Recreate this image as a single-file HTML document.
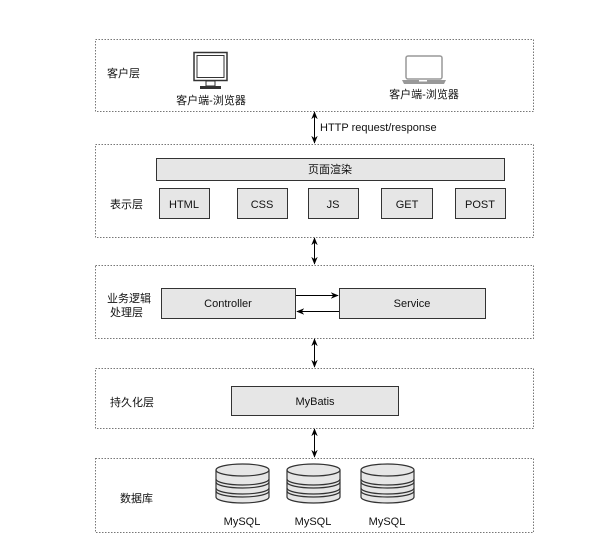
<!DOCTYPE html>
<html><head><meta charset="utf-8"><style>
body{margin:0;background:#fff;}
svg text{font-family:"Liberation Sans","Noto Sans CJK SC",sans-serif;font-size:11px;fill:#111;}
</style></head><body>
<svg width="612" height="548" xmlns="http://www.w3.org/2000/svg">
<defs>
<marker id="a" viewBox="0 0 10 10" refX="9" refY="5" markerWidth="8" markerHeight="8" orient="auto-start-reverse"><path d="M0,1 L10,5 L0,9 L3,5z" fill="#000"/></marker>
</defs>
<g fill="none" stroke="#777" stroke-dasharray="1.5,1.5">
<rect x="95.5" y="39.5" width="438" height="72"/>
<rect x="95.5" y="144.5" width="438" height="93"/>
<rect x="95.5" y="265.5" width="438" height="73"/>
<rect x="95.5" y="368.5" width="438" height="60"/>
<rect x="95.5" y="458.5" width="438" height="74"/>
</g>
<g stroke="#000" stroke-width="1" marker-start="url(#a)" marker-end="url(#a)">
<line x1="314.5" y1="112" x2="314.5" y2="143"/>
<line x1="314.5" y1="238" x2="314.5" y2="264"/>
<line x1="314.5" y1="339" x2="314.5" y2="367"/>
<line x1="314.5" y1="429" x2="314.5" y2="457"/>
</g>
<text x="107" y="77">客户层</text>
<text x="320" y="131">HTTP request/response</text>
<text x="110" y="208">表示层</text>
<text x="107" y="302">业务逻辑</text>
<text x="110" y="316">处理层</text>
<text x="110" y="406">持久化层</text>
<text x="120" y="502">数据库</text>
<!-- monitor -->
<rect x="194" y="52.5" width="33" height="28" fill="#fff" stroke="#333" stroke-width="1.5"/>
<rect x="197" y="55.5" width="27" height="22" fill="#fff" stroke="#333"/>
<rect x="206" y="81" width="9" height="5" fill="#fff" stroke="#333"/>
<rect x="200" y="86" width="21" height="3" fill="#333"/>
<text x="211" y="104" text-anchor="middle">客户端-浏览器</text>
<!-- laptop -->
<rect x="406" y="56" width="36" height="23" rx="2" fill="#fff" stroke="#999" stroke-width="1.5"/>
<path d="M402,80 H446 L444,84 H404 Z" fill="#999"/>
<rect x="419" y="80" width="8" height="1.5" fill="#fff"/>
<text x="424" y="98" text-anchor="middle">客户端-浏览器</text>
<g fill="#e6e6e6" stroke="#333" stroke-width="1">
<rect x="156.5" y="158.5" width="348" height="22"/>
<rect x="159.5" y="188.5" width="50" height="30"/>
<rect x="237.5" y="188.5" width="50" height="30"/>
<rect x="308.5" y="188.5" width="50" height="30"/>
<rect x="381.5" y="188.5" width="51" height="30"/>
<rect x="455.5" y="188.5" width="50" height="30"/>
<rect x="161.5" y="288.5" width="134" height="30"/>
<rect x="339.5" y="288.5" width="146" height="30"/>
<rect x="231.5" y="386.5" width="167" height="29"/>
</g>
<g text-anchor="middle">
<text x="330" y="173">页面渲染</text>
<text x="184" y="208">HTML</text>
<text x="262" y="208">CSS</text>
<text x="333" y="208">JS</text>
<text x="407" y="208">GET</text>
<text x="480" y="208">POST</text>
<text x="228" y="307">Controller</text>
<text x="412" y="307">Service</text>
<text x="315" y="405">MyBatis</text>
</g>
<g stroke="#000" marker-end="url(#a)">
<line x1="296" y1="295.5" x2="338" y2="295.5"/>
<line x1="339" y1="311.5" x2="297" y2="311.5"/>
</g>
<!-- DBs -->
<g id="db" fill="#e6e6e6" stroke="#333" stroke-width="1.2">
<path d="M216,470 V497 A26.5,6 0 0 0 269,497 V470"/>
<ellipse cx="242.5" cy="470" rx="26.5" ry="6"/>
<path d="M216,479 A26.5,6 0 0 0 269,479" fill="none"/>
<path d="M216,482 A26.5,6 0 0 0 269,482" fill="none"/>
<path d="M216,488 A26.5,6 0 0 0 269,488" fill="none"/>
<path d="M216,491 A26.5,6 0 0 0 269,491" fill="none"/>
</g>
<use href="#db" x="71"/>
<use href="#db" x="145"/>
<g text-anchor="middle">
<text x="242" y="525">MySQL</text>
<text x="313" y="525">MySQL</text>
<text x="387" y="525">MySQL</text>
</g>
</svg>
</body></html>
